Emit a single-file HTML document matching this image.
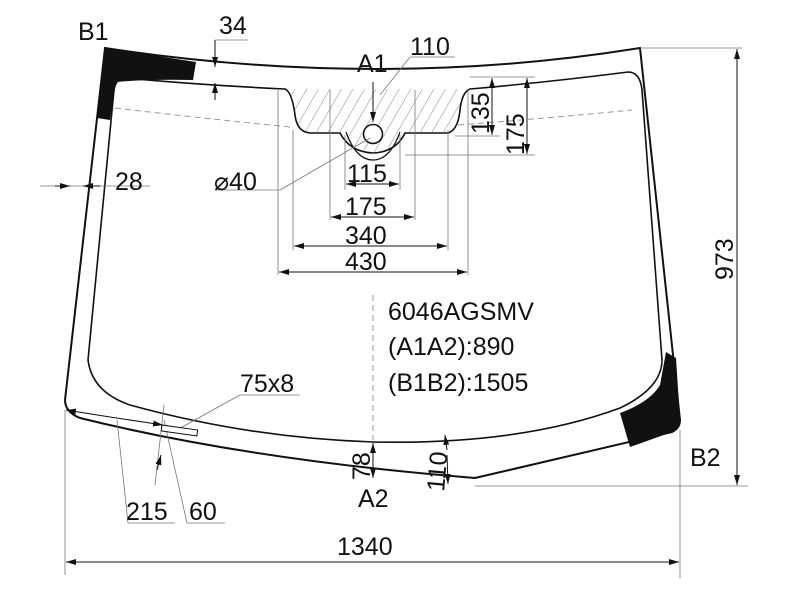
<!DOCTYPE html>
<html><head><style>body{margin:0;background:#fff}svg{display:block}text{font-family:"Liberation Sans",sans-serif;fill:#111}</style></head><body>
<svg width="800" height="600" viewBox="0 0 800 600" xmlns="http://www.w3.org/2000/svg">
<defs>
<pattern id="h" width="10" height="10" patternUnits="userSpaceOnUse" patternTransform="rotate(30)"><line x1="0" y1="0" x2="0" y2="10" stroke="#555" stroke-width="0.7"/></pattern>
<marker id="a" markerWidth="10" markerHeight="6" refX="10" refY="3" orient="auto" markerUnits="userSpaceOnUse"><path d="M0,0 L10,3 L0,6z" fill="#111"/></marker>
</defs>
<path d="M105,48 Q150,55 196,62 L193,80 Q150,79 116,82 L110,120 L97,118z" fill="#111"/>
<path d="M666,352 L676,358 L680,420 Q680,428 672,432 L630,447 L620,413 Q650,402 660,385z" fill="#111"/>
<path d="M105,48 Q380,90 640,48 L680,420 Q680,428 672,432 L475,478 Q250,460 80,418 Q65,412 65,400 Z" fill="none" stroke="#111" stroke-width="2"/>
<path d="M125,78 Q200,85 285,89 Q292,92 295,115 Q297,132 310,133 L340,133 Q350,152 373,153 Q396,152 405,133 L448,133 Q458,130 460,110 Q462,92 470,89 Q550,82 628,72 Q640,72 642,90 L662,360 Q662,388 620,408 Q520,445 373,442 Q250,438 130,405 Q92,392 88,360 L114,90 Q116,78 125,78Z" fill="none" stroke="#111" stroke-width="1.6"/>
<path d="M285,89 Q292,92 295,115 Q297,132 310,133 L340,133 Q350,152 373,153 Q396,152 405,133 L448,133 Q458,130 460,110 Q462,92 470,89 Z" fill="url(#h)" stroke="none"/>
<path d="M346,132 Q356,160 373,160 Q390,160 400,132" fill="none" stroke="#111" stroke-width="1.2"/>
<circle cx="373" cy="134" r="9.5" fill="#fff" stroke="#111" stroke-width="1.5"/>
<g stroke="#999" stroke-width="1" stroke-dasharray="6,4" fill="none">
<path d="M115,108 Q200,118 290,127"/><path d="M458,125 Q550,118 632,110"/><line x1="373" y1="295" x2="373" y2="440"/>
</g>
<g stroke="#777" stroke-width="0.8" fill="none">
<line x1="640" y1="48" x2="742" y2="48"/><line x1="475" y1="486" x2="748" y2="486"/>
<line x1="65" y1="410" x2="65" y2="575"/><line x1="680" y1="430" x2="680" y2="578"/>
<line x1="278" y1="90" x2="278" y2="275"/><line x1="468" y1="90" x2="468" y2="275"/>
<line x1="293" y1="130" x2="293" y2="250"/><line x1="448" y1="130" x2="448" y2="250"/>
<line x1="330" y1="90" x2="330" y2="220"/><line x1="415" y1="90" x2="415" y2="220"/>
<line x1="345" y1="135" x2="345" y2="190"/><line x1="400" y1="135" x2="400" y2="190"/>
<line x1="470" y1="77" x2="535" y2="77"/><line x1="455" y1="136" x2="500" y2="136"/><line x1="405" y1="155" x2="535" y2="155"/>
<line x1="215" y1="40" x2="248" y2="40"/><line x1="380" y1="95" x2="410" y2="57"/><line x1="410" y1="57" x2="455" y2="57"/>
<line x1="215" y1="190" x2="280" y2="190"/><line x1="280" y1="190" x2="370" y2="138"/>
<line x1="40" y1="186" x2="150" y2="186"/>
<line x1="240" y1="395" x2="300" y2="395"/><line x1="240" y1="395" x2="173" y2="432"/>
<line x1="117" y1="420" x2="128" y2="523"/><line x1="128" y1="523" x2="175" y2="523"/>
<line x1="164" y1="420" x2="187" y2="523"/><line x1="187" y1="523" x2="225" y2="523"/>
<line x1="164" y1="405" x2="155" y2="485"/>
</g>
<rect x="162" y="425" width="36" height="6" fill="#fff" stroke="#111" stroke-width="1" transform="rotate(8 162 425)"/>
<g stroke="#111" stroke-width="1" fill="none" marker-end="url(#a)">
<line x1="737" y1="265" x2="737" y2="49"/><line x1="737" y1="265" x2="737" y2="485"/>
<line x1="372" y1="562" x2="66" y2="562"/><line x1="372" y1="562" x2="679" y2="562"/>
<line x1="373" y1="272" x2="279" y2="272"/><line x1="373" y1="272" x2="467" y2="272"/>
<line x1="373" y1="246" x2="294" y2="246"/><line x1="373" y1="246" x2="447" y2="246"/>
<line x1="373" y1="217" x2="331" y2="217"/><line x1="373" y1="217" x2="414" y2="217"/>
<line x1="373" y1="184" x2="346" y2="184"/><line x1="373" y1="184" x2="399" y2="184"/>
<line x1="492" y1="110" x2="492" y2="78"/><line x1="492" y1="110" x2="492" y2="135"/>
<line x1="527" y1="120" x2="527" y2="78"/><line x1="527" y1="120" x2="527" y2="154"/>
<line x1="373" y1="82" x2="373" y2="122"/>
<line x1="215" y1="40" x2="215" y2="67"/><line x1="215" y1="100" x2="215" y2="83"/>
<line x1="55" y1="186" x2="70" y2="186"/><line x1="100" y1="186" x2="83" y2="186"/>
<line x1="110" y1="417" x2="66" y2="410"/><line x1="110" y1="417" x2="163" y2="425"/>
<line x1="373" y1="460" x2="373" y2="443"/><line x1="373" y1="460" x2="373" y2="478"/>
<line x1="447" y1="450" x2="445" y2="435"/><line x1="447" y1="455" x2="448" y2="484"/>
<line x1="157" y1="470" x2="161" y2="455"/>
</g>
<g font-size="25">
<text x="78" y="40">B1</text><text x="219" y="34">34</text><text x="357" y="72">A1</text><text x="410" y="55">110</text>
<text x="115" y="190">28</text><text x="214" y="190">⌀40</text>
<text x="347" y="182">115</text><text x="345" y="215">175</text><text x="345" y="244">340</text><text x="345" y="270">430</text>
<text x="690" y="466">B2</text><text x="358" y="507">A2</text>
<text x="337" y="555">1340</text>
<text x="240" y="392">75x8</text>
<text x="126" y="520">215</text><text x="189" y="520">60</text>
<text x="388" y="320">6046AGSMV</text><text x="388" y="355">(A1A2):890</text><text x="388" y="391">(B1B2):1505</text>
<text transform="translate(489,134) rotate(-90)">135</text>
<text transform="translate(524,155) rotate(-90)">175</text>
<text transform="translate(733,280) rotate(-90)">973</text>
<text transform="translate(370,480) rotate(-90)">78</text>
<text transform="translate(444,492) rotate(-85)">110</text>
</g>
</svg>
</body></html>
